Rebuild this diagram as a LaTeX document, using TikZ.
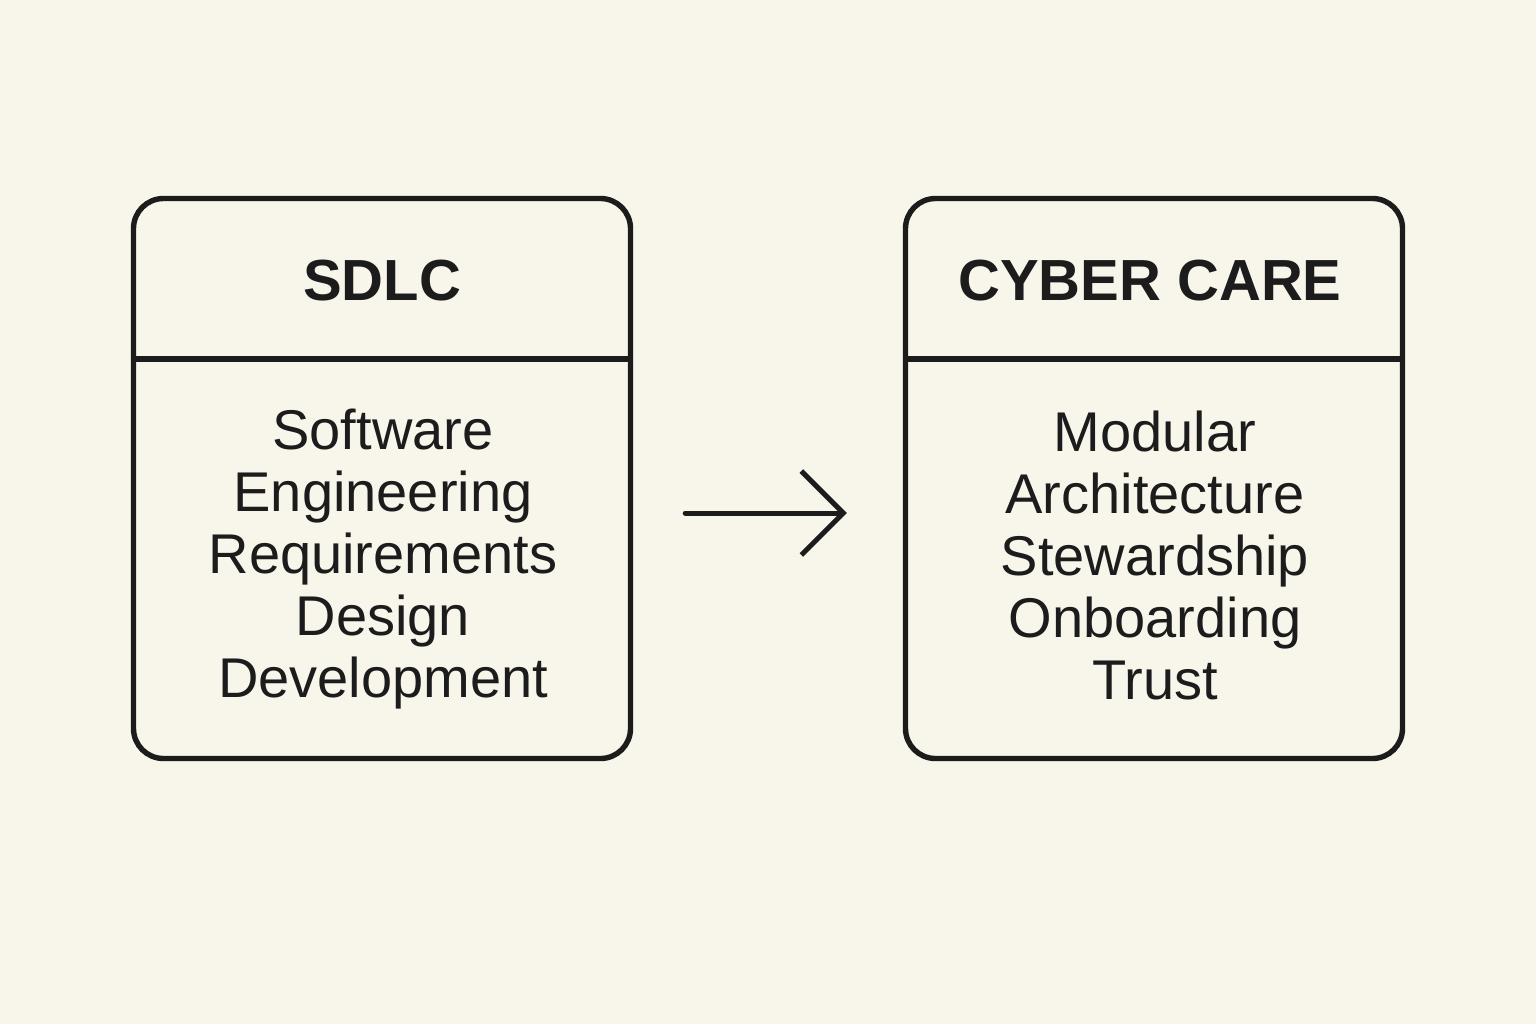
\documentclass[tikz,border=0pt]{standalone}
\usepackage{fontspec}
\setmainfont{Liberation Sans}
\usepackage{tikz}
\usetikzlibrary{arrows.meta, positioning}
\definecolor{paper}{HTML}{F8F5EA}
\definecolor{ink}{HTML}{1C1C1C}

\begin{document}
\begin{tikzpicture}[
    x=0.5pt, y=-0.5pt,
    box/.style={rectangle, draw=ink, line width=2.7pt, rounded corners=15pt, minimum width=248.5pt, minimum height=280pt},
    head/.style={font=\fontsize{29}{34}\selectfont\bfseries, text=ink},
    body/.style={font=\fontsize{28}{31}\selectfont, text=ink, align=center},
    rule/.style={draw=ink, line width=2.7pt},
    arrow/.style={-{Straight Barb[length=21pt, width=42pt, line width=2.5pt]}, draw=ink, line width=2.5pt, line cap=round, shorten <=26pt, shorten >=28pt}
]
\fill[paper] (0,0) rectangle (1536,1024);
\useasboundingbox (0,0) rectangle (1536,1024);

% left box
\node[box] (sdlc) at (382,478.5) {};
\node[head] (sdlchead) at (382,281) {SDLC};
\draw[rule] (sdlc.west |- 0,359) -- (sdlc.east |- 0,359);
\node[body] (sdlcbody) at (383,559) {Software\\Engineering\\Requirements\\Design\\Development};

% right box
\node[box] (care) at (1154,478.5) {};
\node[head] (carehead) at (1150,281) {CYBER CARE};
\draw[rule] (care.west |- 0,359) -- (care.east |- 0,359);
\node[body] (carebody) at (1155,555) {Modular\\Architecture\\Stewardship\\Onboarding\\Trust};

\draw[arrow] ([yshift=-17.25pt]sdlc.east) -- ([yshift=-17.25pt]care.west);
\end{tikzpicture}
\end{document}
